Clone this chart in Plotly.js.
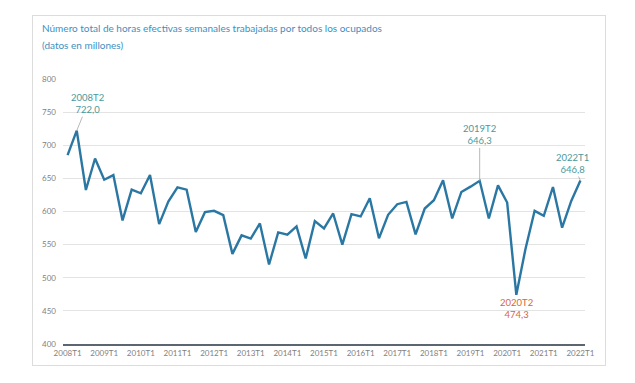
<!DOCTYPE html>
<html><head><meta charset="utf-8">
<script src="https://cdn.plot.ly/plotly-3.0.1.min.js"></script>
<style>
html,body{margin:0;padding:0;background:#fff;}
#card{position:absolute;left:32px;top:15px;width:572px;height:349px;border:1px solid #dcdcdc;}
#chart{position:absolute;left:0;top:0;width:635px;height:383px;}
</style></head>
<body><div id="card"></div><div id="chart"></div>
<script>
const periods = [];
for (let y = 2008; y <= 2022; y++) for (let q = 1; q <= 4; q++) { if (y === 2022 && q > 1) break; periods.push(y + 'T' + q); }
const hours = [
  685, 722.0, 632.5, 680,
  648, 655, 586.5, 633,
  627.5, 655, 581, 615,
  636.5, 633, 569, 599,
  601, 594.5, 536, 564,
  559, 582, 520, 568.5,
  565, 577.5, 529, 585.5,
  574.5, 597, 550, 596,
  592.5, 620, 559.5, 595,
  611, 614.5, 565.5, 604.5,
  617, 647, 589.5, 629.5,
  637.5, 646.3, 589.5, 639.5,
  613.5, 474.3, 543.5, 601,
  593.5, 637, 575.5, 616,
  646.8
];
const tickLabels = periods.filter(p => p.endsWith('T1'));
const yTicks = [400, 450, 500, 550, 600, 650, 700, 750, 800];
const titleLines = ['Número total de horas efectivas semanales trabajadas por todos los ocupados', '(datos en millones)'];
const highlights = [
  {p: '2008T2', label: '722,0', color: '#4a9a9c', ax: 11, ay: -27, arrow: true},
  {p: '2019T2', label: '646,3', color: '#4a9a9c', ax: 0, ay: -46, arrow: true},
  {p: '2022T1', label: '646,8', color: '#4a9a9c', ax: -8, ay: -17, arrow: true},
  {p: '2020T2', label: '474,3', color: '#d9663a', ax: 0, ay: 12, arrow: false}
];
const FONT = 'Lato, "Liberation Sans", Arial, sans-serif';
const annotations = highlights.map(h => {
  const v = hours[periods.indexOf(h.p)];
  const a = {x: h.p, y: v, xref: 'x', yref: 'y', text: h.p + '<br>' + h.label,
    font: {family: FONT, size: 9.5, color: h.color}, align: 'center'};
  if (h.arrow) Object.assign(a, {showarrow: true, arrowhead: 0, arrowwidth: 0.8, arrowcolor: '#a6a6a6', ax: h.ax, ay: h.ay, standoff: 0});
  else Object.assign(a, {showarrow: false, yanchor: 'top', yshift: 0});
  return a;
});
const titleY = [1.192, 1.128];
titleLines.forEach((t, i) => annotations.push({
  text: t, xref: 'paper', yref: 'paper', x: -0.044, y: titleY[i], xanchor: 'left', yanchor: 'middle',
  showarrow: false, font: {family: FONT, size: 10, color: '#3d8fbf'}
}));
Plotly.newPlot('chart', [{
  x: periods, y: hours, type: 'scatter', mode: 'lines',
  line: {color: '#2a77a3', width: 2.4}, hoverinfo: 'skip'
}], {
  width: 635, height: 383,
  margin: {l: 63, r: 50, t: 79, b: 39},
  paper_bgcolor: 'rgba(0,0,0,0)', plot_bgcolor: 'rgba(0,0,0,0)',
  showlegend: false,
  xaxis: {type: 'category', tickmode: 'array', tickvals: tickLabels, ticktext: tickLabels,
    range: [-0.5, periods.length - 0.5], showgrid: false, showline: true, linecolor: '#5b6670', linewidth: 2,
    ticks: '', tickangle: 0, tickfont: {family: FONT, size: 8, color: '#7f7f7f'}, fixedrange: true},
  yaxis: {range: [400, 800], tickvals: yTicks, showgrid: true, gridcolor: '#e3e3e3', gridwidth: 1,
    zeroline: false, showline: false, ticks: '', ticklabelstandoff: 6,
    tickfont: {family: FONT, size: 8, color: '#7f7f7f'}, fixedrange: true},
  annotations: annotations
}, {staticPlot: true});
</script></body></html>
